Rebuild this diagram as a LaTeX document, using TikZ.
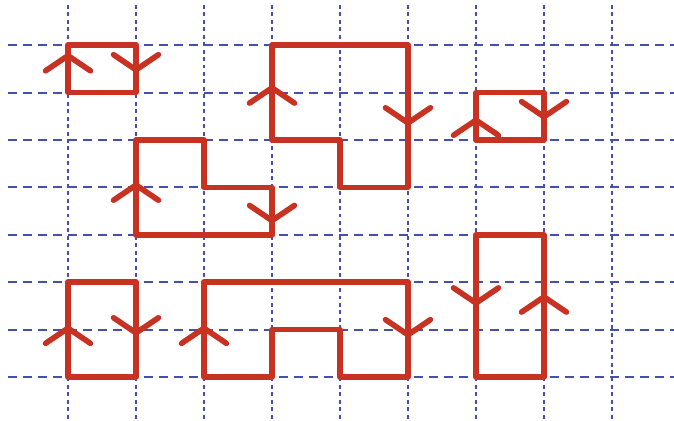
\documentclass[tikz,border=0pt]{standalone}
\usepackage{tikz}

\definecolor{gridblue}{RGB}{70,80,170}
\definecolor{loopred}{RGB}{200,50,35}

\begin{document}
\begin{tikzpicture}[x=1.7cm,y=1.185cm,
 hgrid/.style={gridblue,line width=1.3pt,dash pattern=on 6.4pt off 4.3pt},
 vgrid/.style={gridblue,line width=1.3pt,dash pattern=on 2.8pt off 2.5pt},
 wire/.style={loopred,line width=4pt,line join=round,line cap=round}]
\useasboundingbox (-1,-0.928) rectangle (8.912,7.954);
% grid
\foreach \r in {0,...,7} \draw[hgrid] (-0.88,\r) -- (8.912,\r);
\foreach \c in {0,...,8} \draw[vgrid] (\c,7.85) -- (\c,-0.928);
% small square, top left
\draw[wire] (0,6) rectangle (1,7);
\draw[wire] (0,6.78) ++(-0.33,-0.32) -- ++(0.33,0.32) -- ++(0.33,-0.32);
\draw[wire] (1,6.48) ++(-0.33,0.32) -- ++(0.33,-0.32) -- ++(0.33,0.32);
% tall shape, top middle
\draw[wire] (3,7) -- (5,7) -- (5,4) -- (4,4) -- (4,5) -- (3,5) -- cycle;
\draw[wire] (3,6.1) ++(-0.33,-0.32) -- ++(0.33,0.32) -- ++(0.33,-0.32);
\draw[wire] (5,5.36) ++(-0.33,0.32) -- ++(0.33,-0.32) -- ++(0.33,0.32);
% small square, right
\draw[wire] (6,5) rectangle (7,6);
\draw[wire] (6,5.42) ++(-0.33,-0.32) -- ++(0.33,0.32) -- ++(0.33,-0.32);
\draw[wire] (7,5.49) ++(-0.33,0.32) -- ++(0.33,-0.32) -- ++(0.33,0.32);
% step shape, left
\draw[wire] (1,5) -- (2,5) -- (2,4) -- (3,4) -- (3,3) -- (1,3) -- cycle;
\draw[wire] (1,4.05) ++(-0.33,-0.32) -- ++(0.33,0.32) -- ++(0.33,-0.32);
\draw[wire] (3,3.3) ++(-0.33,0.32) -- ++(0.33,-0.32) -- ++(0.33,0.32);
% rectangle, bottom left
\draw[wire] (0,0) rectangle (1,2);
\draw[wire] (0,1.03) ++(-0.33,-0.32) -- ++(0.33,0.32) -- ++(0.33,-0.32);
\draw[wire] (1,0.93) ++(-0.33,0.32) -- ++(0.33,-0.32) -- ++(0.33,0.32);
% notched shape, bottom middle
\draw[wire] (2,2) -- (5,2) -- (5,0) -- (4,0) -- (4,1) -- (3,1) -- (3,0) -- (2,0) -- cycle;
\draw[wire] (2,1.03) ++(-0.33,-0.32) -- ++(0.33,0.32) -- ++(0.33,-0.32);
\draw[wire] (5,0.89) ++(-0.33,0.32) -- ++(0.33,-0.32) -- ++(0.33,0.32);
% tall rectangle, bottom right
\draw[wire] (6,0) rectangle (7,3);
\draw[wire] (6,1.56) ++(-0.33,0.32) -- ++(0.33,-0.32) -- ++(0.33,0.32);
\draw[wire] (7,1.69) ++(-0.33,-0.32) -- ++(0.33,0.32) -- ++(0.33,-0.32);
\end{tikzpicture}
\end{document}
